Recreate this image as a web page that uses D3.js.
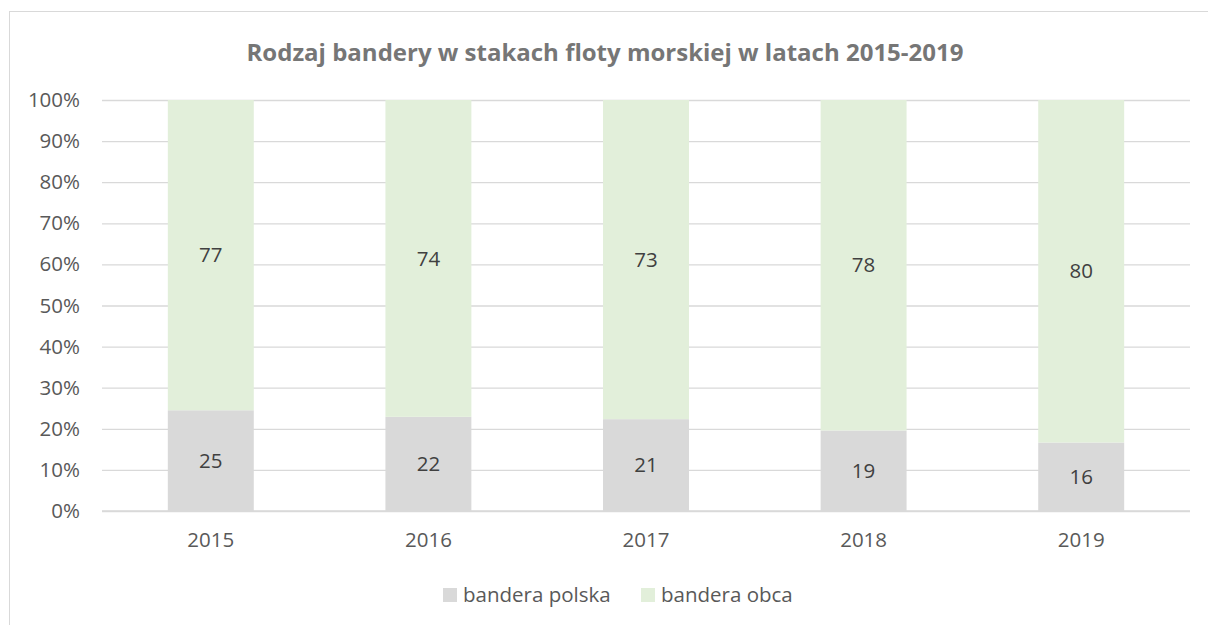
<!DOCTYPE html>
<html>
<head>
<meta charset="utf-8">
<script src="https://cdn.jsdelivr.net/npm/d3@7"></script>
<style>
  body { margin: 0; background: #fff; }
  text { font-family: "Open Sans", sans-serif; }
</style>
</head>
<body>
<div id="chart"></div>
<script>
var years = ["2015", "2016", "2017", "2018", "2019"];
var polska = [25, 22, 21, 19, 16];
var obca = [77, 74, 73, 78, 80];
var seriesNames = ["bandera polska", "bandera obca"];
var seriesColors = ["#d9d9d9", "#e2efda"];
var yTicks = [0, 0.1, 0.2, 0.3, 0.4, 0.5, 0.6, 0.7, 0.8, 0.9, 1];

var W = 1208, H = 625;
var margin = { top: 100, right: 18, bottom: 114, left: 102 };
var width = W - margin.left - margin.right,
    height = H - margin.top - margin.bottom;

var rows = years.map(function(y, i) {
    var t = polska[i] + obca[i];
    return { year: y, polska: polska[i], obca: obca[i], p0: polska[i] / t, p1: obca[i] / t };
});

var svg = d3.select("#chart").append("svg")
    .attr("width", W).attr("height", H);

// chart border
svg.append("rect")
    .attr("x", 9.5).attr("y", 11.5)
    .attr("width", W + 20).attr("height", H + 20)
    .attr("fill", "#fff").attr("stroke", "#d9d9d9");

svg.append("text")
    .attr("x", W / 2 + 1).attr("y", 61)
    .attr("text-anchor", "middle")
    .style("font-size", "24px").style("font-weight", "bold")
    .style("fill", "#767676")
    .text("Rodzaj bandery w stakach floty morskiej w latach 2015-2019");

var g = svg.append("g").attr("transform", "translate(" + margin.left + "," + margin.top + ")");

var gap = 0.605;
var x = d3.scaleBand().domain(years).range([0, width]).paddingInner(gap).paddingOuter(gap / 2);
var y = d3.scaleLinear().domain([0, 1]).range([height, 0]);

var fs = "20.5px";

var yAxis = d3.axisLeft(y).tickValues(yTicks).tickFormat(d3.format(".0%")).tickSize(-width).tickPadding(22);
var ya = g.append("g").call(yAxis);
ya.select(".domain").remove();
ya.selectAll("line").attr("stroke", "#d9d9d9").attr("stroke-width", 1.3);
ya.selectAll("text").style("font-size", fs).style("fill", "#595959");

var stack = d3.stack().keys(["p0", "p1"]);
var layers = stack(rows);

var layer = g.selectAll(".layer").data(layers).enter().append("g")
    .attr("class", "layer")
    .style("fill", function(d, i) { return seriesColors[i]; });

layer.selectAll("rect").data(function(d) { return d; }).enter().append("rect")
    .attr("x", function(d) { return x(d.data.year); })
    .attr("y", function(d) { return y(d[1]); })
    .attr("height", function(d) { return y(d[0]) - y(d[1]); })
    .attr("width", x.bandwidth());

var keys = ["polska", "obca"];
layer.selectAll("text.lbl").data(function(d, i) { return d.map(function(v) { v.k = keys[i]; return v; }); })
    .enter().append("text")
    .attr("class", "lbl")
    .attr("x", function(d) { return x(d.data.year) + x.bandwidth() / 2; })
    .attr("y", function(d) { return y((d[0] + d[1]) / 2); })
    .attr("dy", "0.35em")
    .attr("text-anchor", "middle")
    .style("font-size", fs).style("fill", "#404040")
    .text(function(d) { return d.data[d.k]; });

var xa = g.append("g").attr("transform", "translate(0," + height + ")")
    .call(d3.axisBottom(x).tickSize(0).tickPadding(21));
xa.select(".domain").attr("stroke", "#d9d9d9").attr("stroke-width", 1.3)
    .attr("d", "M" + 0 + ",0H" + width);
xa.selectAll("text").style("font-size", fs).style("fill", "#595959");

// legend
var legend = svg.append("g").attr("transform", "translate(443,588)");
var lx = [0, 198];
seriesNames.forEach(function(n, i) {
    var it = legend.append("g").attr("transform", "translate(" + lx[i] + ",0)");
    it.append("rect").attr("width", 14).attr("height", 14).attr("fill", seriesColors[i]);
    it.append("text").attr("x", 20).attr("y", 7).attr("dy", "0.35em")
        .style("font-size", fs).style("fill", "#595959").text(n);
});
</script>
</body>
</html>
